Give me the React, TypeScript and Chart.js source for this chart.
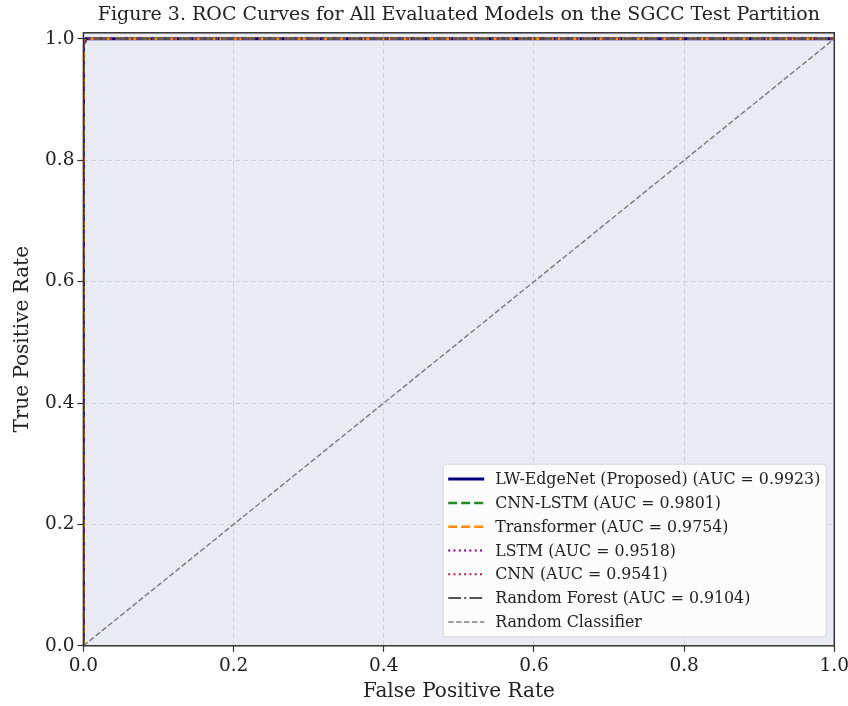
import React, { useEffect, useRef } from "react";
import { Chart, registerables } from "chart.js";

Chart.register(...registerables);

const TITLE = "Figure 3. ROC Curves for All Evaluated Models on the SGCC Test Partition";
const X_LABEL = "False Positive Rate";
const Y_LABEL = "True Positive Rate";
const TICK_VALUES = [0, 0.2, 0.4, 0.6, 0.8, 1.0];

const MODEL_NAMES = [
  "LW-EdgeNet (Proposed) (AUC = 0.9923)",
  "CNN-LSTM (AUC = 0.9801)",
  "Transformer (AUC = 0.9754)",
  "LSTM (AUC = 0.9518)",
  "CNN (AUC = 0.9541)",
  "Random Forest (AUC = 0.9104)",
  "Random Classifier",
];

const FPR_LW = [0, 0, 0.003, 1];
const TPR_LW = [0, 0.995, 1, 1];
const FPR_CNNLSTM = [0, 0, 0.004, 1];
const TPR_CNNLSTM = [0, 0.994, 1, 1];
const FPR_TRANSFORMER = [0, 0, 0.004, 1];
const TPR_TRANSFORMER = [0, 0.993, 1, 1];
const FPR_LSTM = [0, 0, 0.005, 1];
const TPR_LSTM = [0, 0.992, 1, 1];
const FPR_CNN = [0, 0, 0.005, 1];
const TPR_CNN = [0, 0.992, 1, 1];
const FPR_RF = [0, 0, 0.006, 1];
const TPR_RF = [0, 0.99, 1, 1];
const FPR_RANDOM = [0, 1];
const TPR_RANDOM = [0, 1];

const SERIES_X = [FPR_LW, FPR_CNNLSTM, FPR_TRANSFORMER, FPR_LSTM, FPR_CNN, FPR_RF, FPR_RANDOM];
const SERIES_Y = [TPR_LW, TPR_CNNLSTM, TPR_TRANSFORMER, TPR_LSTM, TPR_CNN, TPR_RF, TPR_RANDOM];

const COLORS = ["#000080", "#228b22", "#ff8c00", "#800080", "#b0204a", "#555555", "#808080"];
const WIDTHS = [3, 2.5, 2.5, 2, 2, 2, 1.5];
const DASHES: number[][] = [[], [9, 4], [9, 4], [2, 3.3], [2, 3.3], [12.8, 3.2, 2, 3.2], [5.5, 2.4]];

const FONT = "'DejaVu Serif', serif";

const bgPlugin = {
  id: "plotBg",
  beforeDraw(chart: any) {
    const { ctx, chartArea: a } = chart;
    ctx.save();
    ctx.fillStyle = "#ffffff";
    ctx.fillRect(0, 0, chart.width, chart.height);
    ctx.fillStyle = "#eaeaf2";
    ctx.fillRect(a.left, a.top, a.right - a.left, a.bottom - a.top);
    ctx.restore();
  },
  afterDraw(chart: any) {
    const { ctx, chartArea: a } = chart;
    ctx.save();
    // frame
    ctx.strokeStyle = "#333333";
    ctx.lineWidth = 1.5;
    ctx.strokeRect(a.left, a.top, a.right - a.left, a.bottom - a.top);
    // legend
    const ds = chart.data.datasets;
    ctx.font = `15.8px ${FONT}`;
    let maxW = 0;
    ds.forEach((d: any) => {
      maxW = Math.max(maxW, ctx.measureText(d.label).width);
    });
    const rowH = 23.8;
    const sampleW = 36;
    const padX = 5;
    const gap = 11;
    const boxW = padX + sampleW + gap + maxW + 6;
    const boxH = rowH * ds.length + 6;
    const bx = a.right - 8 - boxW;
    const by = a.bottom - 9 - boxH;
    ctx.fillStyle = "rgba(255,255,255,0.85)";
    ctx.strokeStyle = "#d8d8d8";
    ctx.lineWidth = 1;
    const r = 3;
    ctx.beginPath();
    ctx.moveTo(bx + r, by);
    ctx.arcTo(bx + boxW, by, bx + boxW, by + boxH, r);
    ctx.arcTo(bx + boxW, by + boxH, bx, by + boxH, r);
    ctx.arcTo(bx, by + boxH, bx, by, r);
    ctx.arcTo(bx, by, bx + boxW, by, r);
    ctx.closePath();
    ctx.fill();
    ctx.stroke();
    ds.forEach((d: any, i: number) => {
      const cy = by + 3 + rowH * i + rowH / 2;
      ctx.beginPath();
      ctx.setLineDash(d.borderDash || []);
      ctx.strokeStyle = d.borderColor;
      ctx.lineWidth = d.borderWidth;
      ctx.moveTo(bx + padX, cy);
      ctx.lineTo(bx + padX + sampleW, cy);
      ctx.stroke();
      ctx.setLineDash([]);
      ctx.fillStyle = "#222222";
      ctx.textBaseline = "middle";
      ctx.textAlign = "left";
      ctx.fillText(d.label, bx + padX + sampleW + gap, cy + 1);
    });
    ctx.restore();
  },
};

const gridOpts = {
  color: "rgba(185,185,200,0.55)",
  tickColor: "#333333",
  tickBorderDash: [],
  tickLength: 6,
  tickWidth: 1.2,
  lineWidth: 1,
};

const CANVAS_W = 852;
const CANVAS_H = 706;

export default function App() {
  const ref = useRef<HTMLCanvasElement | null>(null);
  useEffect(() => {
    if (!ref.current) return;
    const datasets = MODEL_NAMES.map((name, i) => ({
      label: name,
      data: SERIES_X[i].map((x, j) => ({ x, y: SERIES_Y[i][j] })),
      showLine: true,
      borderColor: COLORS[i],
      backgroundColor: COLORS[i],
      borderWidth: WIDTHS[i],
      borderDash: DASHES[i],
      pointRadius: 0,
      fill: false,
      tension: 0,
      order: -i,
    }));
    const chart = new Chart(ref.current, {
      type: "scatter",
      data: { datasets },
      plugins: [bgPlugin],
      options: {
        animation: false,
        responsive: false,
        maintainAspectRatio: false,
        layout: { padding: { left: 11, right: 0, top: 0, bottom: 2 } },
        plugins: {
          legend: { display: false },
          tooltip: { enabled: false },
          title: {
            display: true,
            text: TITLE,
            fullSize: false,
            color: "#222222",
            font: { family: FONT, size: 19, weight: "normal" },
            padding: { top: 4, bottom: 6 },
          },
        },
        scales: {
          x: {
            type: "linear",
            min: 0,
            max: 1,
            afterBuildTicks: (s: any) => {
              s.ticks = TICK_VALUES.map((v) => ({ value: v }));
            },
            ticks: {
              color: "#222222",
              font: { family: FONT, size: 18.5 },
              padding: 3,
              maxRotation: 0,
              callback: (v: any) => Number(v).toFixed(1),
            },
            grid: gridOpts,
            border: { display: false, dash: [5, 3] },
            title: {
              display: true,
              text: X_LABEL,
              color: "#222222",
              font: { family: FONT, size: 20 },
              padding: { top: 0, bottom: 0 },
            },
          },
          y: {
            type: "linear",
            min: 0,
            max: 1.01,
            afterBuildTicks: (s: any) => {
              s.ticks = TICK_VALUES.map((v) => ({ value: v }));
            },
            ticks: {
              color: "#222222",
              font: { family: FONT, size: 18.5 },
              padding: 3,
              callback: (v: any) => Number(v).toFixed(1),
            },
            grid: gridOpts,
            border: { display: false, dash: [5, 3] },
            title: {
              display: true,
              text: Y_LABEL,
              color: "#222222",
              font: { family: FONT, size: 20 },
              padding: { top: 0, bottom: 7 },
            },
          },
        },
      } as any,
    });
    return () => chart.destroy();
  }, []);
  return (
    <div style={{ position: "fixed", left: 0, top: 0, width: 848, height: 706, overflow: "hidden", background: "#fff" }}>
      <canvas ref={ref} width={CANVAS_W} height={CANVAS_H} style={{ width: CANVAS_W, height: CANVAS_H, display: "block" }} />
    </div>
  );
}
